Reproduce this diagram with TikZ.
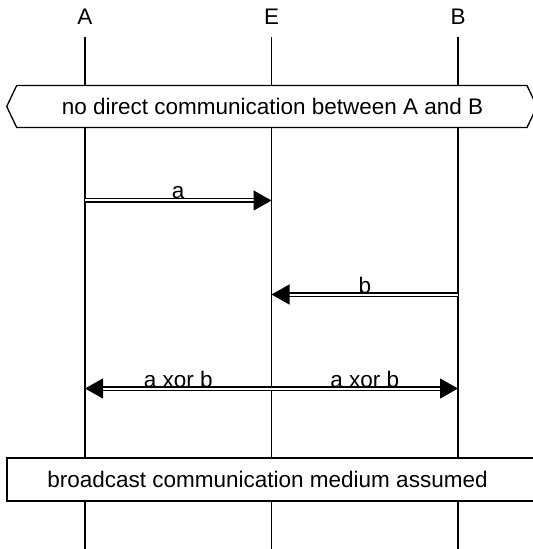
\documentclass[tikz,border=0pt]{standalone}
\usepackage{fontspec}
\setmainfont{Liberation Sans}
\usetikzlibrary{arrows.meta}
\begin{document}
\begin{tikzpicture}[x=1bp,y=-1bp,
  >={Triangle[length=18bp,width=20bp]},
  every node/.style={font=\fontsize{22.5bp}{27bp}\selectfont, inner sep=0pt},
  life/.style={line width=1.3bp},
  msg/.style={double, double distance=2bp, line width=1.3bp},
  lbl/.style={anchor=base, yshift=1.5bp},
  boxline/.style={line width=1.3bp, fill=white}]
\useasboundingbox (0,0) rectangle (533,549);

% instance headers
\node[anchor=base] (A) at (85,25) {A};
\node[anchor=base] (E) at (271.5,25) {E};
\node[anchor=base] (B) at (458,25) {B};

% lifelines
\foreach \n/\x in {A/85,E/271.5,B/458}{
  \coordinate (\n top) at (\x,37);
  \coordinate (\n end) at (\x,549);
  \coordinate (\n1) at (\x,200.5);
  \coordinate (\n2) at (\x,294.5);
  \coordinate (\n3) at (\x,388.5);
  \draw[life] (\n top) -- (\n end);
}

% hexagonal note across all instances
\draw[boxline] (16.7,85.5) -- (527,85.5) -- (537,106.5) -- (527,127.5)
  -- (16.7,127.5) -- (6.7,106.5) -- cycle;
\node[anchor=base] (note) at (272.5,114.5) {no direct communication between A and B};

% messages
\draw[msg, ->] (A1) -- (E1) node[lbl, midway] (la) {a};
\draw[msg, ->] (B2) -- (E2) node[lbl, midway] (lb) {b};
\draw[msg, <->] (A3) -- (B3);
\path (A3) -- (E3) node[lbl, midway] (lx1) {a xor b};
\path (E3) -- (B3) node[lbl, midway] (lx2) {a xor b};

% rectangular note
\draw[boxline] (7,458) rectangle (540,501);
\node[anchor=base] (medium) at (267.5,487.5) {broadcast communication medium assumed};
\end{tikzpicture}
\end{document}
